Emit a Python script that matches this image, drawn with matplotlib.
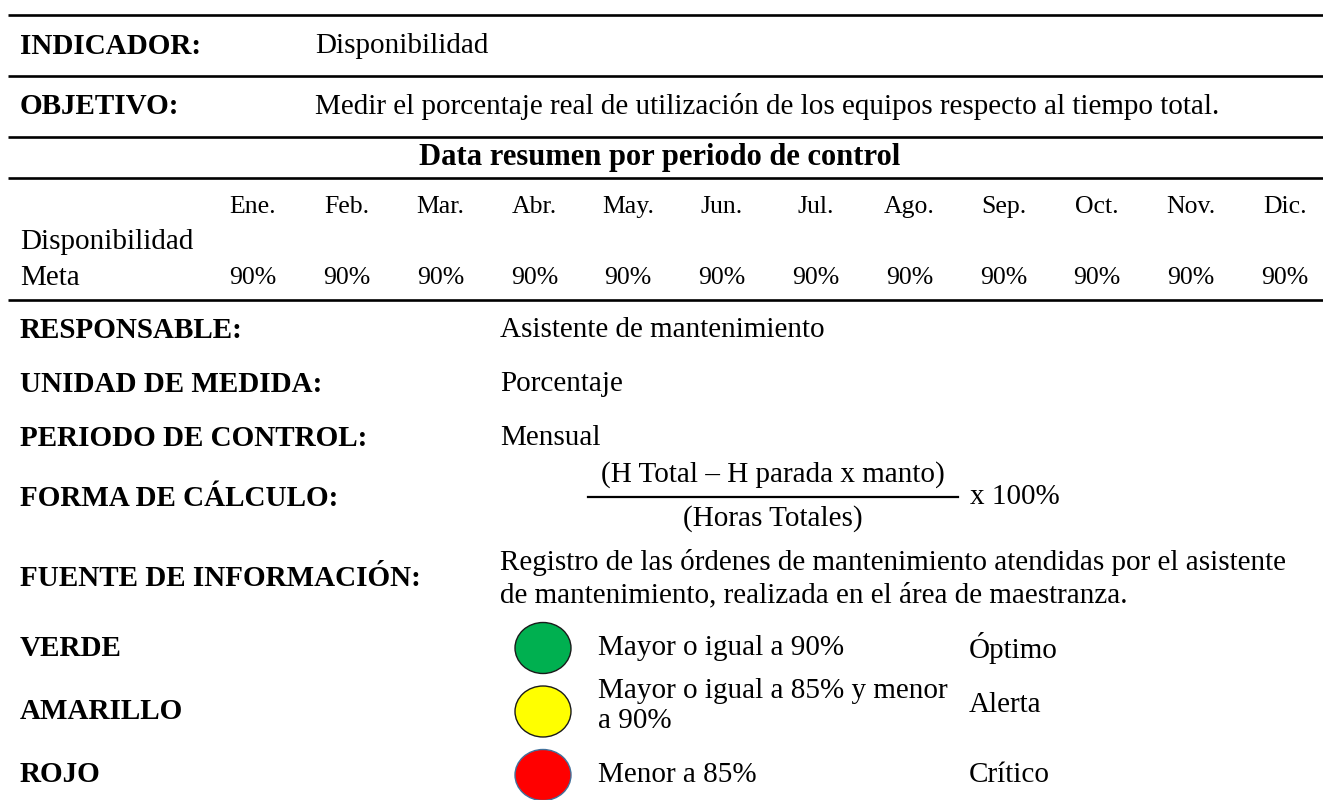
import matplotlib.pyplot as plt
from matplotlib.patches import Ellipse

plt.rcParams['font.family'] = ['Liberation Serif', 'DejaVu Serif']

meses = ["Ene.", "Feb.", "Mar.", "Abr.", "May.", "Jun.", "Jul.", "Ago.", "Sep.", "Oct.", "Nov.", "Dic."]
meta = [90, 90, 90, 90, 90, 90, 90, 90, 90, 90, 90, 90]
disponibilidad = ["", "", "", "", "", "", "", "", "", "", "", ""]

campos = ["RESPONSABLE:", "UNIDAD DE MEDIDA:", "PERIODO DE CONTROL:"]
valores = ["Asistente de mantenimiento", "Porcentaje", "Mensual"]

semaforo = ["VERDE", "AMARILLO", "ROJO"]
colores = ["#00B050", "#FFFF00", "#FF0000"]
bordes = ["#1a1a1a", "#1a1a1a", "#41719C"]
criterios = ["Mayor o igual a 90%", "Mayor o igual a 85% y menor\na 90%", "Menor a 85%"]
estados = ["Óptimo", "Alerta", "Crítico"]

fig = plt.figure(figsize=(13.23, 8.0), dpi=100)
ax = fig.add_axes([0, 0, 1, 1])
ax.set_xlim(0, 1323)
ax.set_ylim(800, 0)
ax.axis("off")

fs = 21
fs_tabla = 18.5
lw = 1.9

# lineas horizontales
for y in [15, 76, 137, 178, 300]:
    ax.plot([8, 1323], [y, y], color="black", lw=lw, solid_capstyle="butt")

ax.text(20, 46, "INDICADOR:", fontsize=fs, fontweight="bold", va="center")
ax.text(315, 46, "Disponibilidad", fontsize=fs, va="center")
ax.text(20, 107, "OBJETIVO:", fontsize=fs, fontweight="bold", va="center")
ax.text(315, 107, "Medir el porcentaje real de utilización de los equipos respecto al tiempo total.",
        fontsize=fs, va="center")
ax.text(660, 158, "Data resumen por periodo de control", fontsize=22, fontweight="bold",
        ha="center", va="center")

# tabla de meses
x0, dx = 253, 93.8
for i, m in enumerate(meses):
    x = x0 + i * dx
    ax.text(x, 207, m, fontsize=fs_tabla, ha="center", va="center")
    ax.text(x, 242, disponibilidad[i], fontsize=fs_tabla, ha="center", va="center")
    ax.text(x, 278, f"{meta[i]}%", fontsize=fs_tabla, ha="center", va="center")
ax.text(20, 242, "Disponibilidad", fontsize=fs, va="center")
ax.text(20, 278, "Meta", fontsize=fs, va="center")

# campos
for i, (c, v) in enumerate(zip(campos, valores)):
    y = 330 + i * 54
    ax.text(20, y, c, fontsize=fs, fontweight="bold", va="center")
    ax.text(500, y, v, fontsize=fs, va="center")

ax.text(20, 498, "FORMA DE CÁLCULO:", fontsize=fs, fontweight="bold", va="center")
ax.text(773, 475, "(H Total – H parada x manto)", fontsize=fs, ha="center", va="center")
ax.plot([588, 958], [497, 497], color="black", lw=1.6)
ax.text(773, 519, "(Horas Totales)", fontsize=fs, ha="center", va="center")
ax.text(970, 497, "x 100%", fontsize=fs, va="center")

ax.text(20, 578, "FUENTE DE INFORMACIÓN:", fontsize=fs, fontweight="bold", va="center")
ax.text(500, 562, "Registro de las órdenes de mantenimiento atendidas por el asistente",
        fontsize=fs, va="center")
ax.text(500, 595, "de mantenimiento, realizada en el área de maestranza.", fontsize=fs, va="center")

# semaforo
for i in range(3):
    y = 648 + i * 63.5
    y_txt = y - 6 if i == 1 else y
    ax.text(20, y, semaforo[i], fontsize=fs, fontweight="bold", va="center")
    ax.add_patch(Ellipse((543, y), 56, 51, facecolor=colores[i], edgecolor=bordes[i], lw=1))
    ax.text(598, y_txt, criterios[i], fontsize=fs, va="center", linespacing=1.2)
    ax.text(969, y_txt, estados[i], fontsize=fs, va="center")

fig.savefig("out.png", dpi=100)
